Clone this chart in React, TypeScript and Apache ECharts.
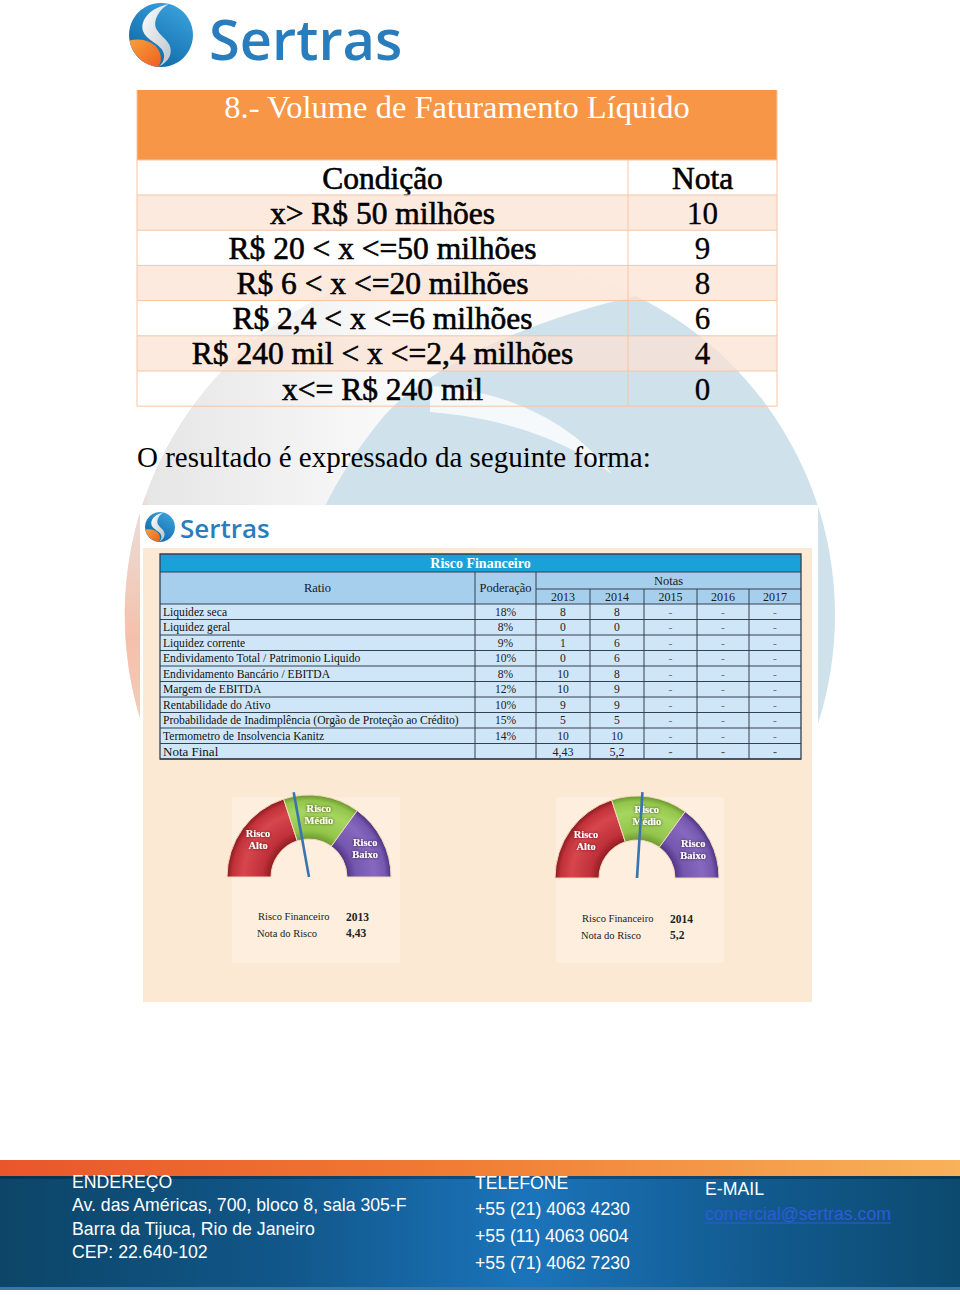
import React, { useEffect, useRef } from 'react';
import * as echarts from 'echarts';

// ---------- data ----------
const pageTitle = '8.- Volume de Faturamento Líquido';
const condHeader = ['Condição', 'Nota'];
const conditions = [
  'x> R$ 50 milhões',
  'R$ 20 < x <=50 milhões',
  'R$ 6 < x <=20 milhões',
  'R$ 2,4 < x <=6 milhões',
  'R$ 240 mil < x <=2,4 milhões',
  'x<= R$ 240 mil',
];
const condNotas = ['10', '9', '8', '6', '4', '0'];
const introText = 'O resultado é expressado da seguinte forma:';

const riskTitle = 'Risco Financeiro';
const riskHeader = ['Ratio', 'Poderação', 'Notas'];
const years = ['2013', '2014', '2015', '2016', '2017'];
const ratios = [
  'Liquidez seca',
  'Liquidez geral',
  'Liquidez corrente',
  'Endividamento Total / Patrimonio Liquido',
  'Endividamento Bancário / EBITDA',
  'Margem de EBITDA',
  'Rentabilidade do Ativo',
  'Probabilidade de Inadimplência (Orgão de Proteção ao Crédito)',
  'Termometro de Insolvencia Kanitz',
];
const ponderacao = ['18%', '8%', '9%', '10%', '8%', '12%', '10%', '15%', '14%'];
const notas2013 = ['8', '0', '1', '0', '10', '10', '9', '5', '10'];
const notas2014 = ['8', '0', '6', '6', '8', '9', '9', '5', '10'];
const notasLater = ['-', '-', '-'];
const notaFinalLabel = 'Nota Final';
const notaFinal = ['4,43', '5,2', '-', '-', '-'];

const riskBands = ['Risco\nAlto', 'Risco\nMédio', 'Risco\nBaixo'];
const riskBandWidths = [4, 3, 3];
const gaugeValues = [4.43, 5.2];
const gaugeYears = ['2013', '2014'];
const gaugeNotes = ['4,43', '5,2'];
const gaugeLabels = ['Risco Financeiro', 'Nota do Risco'];

const footerAddress = ['ENDEREÇO', 'Av. das Américas, 700, bloco 8, sala 305-F', 'Barra da Tijuca, Rio de Janeiro', 'CEP: 22.640-102'];
const footerPhone = ['TELEFONE', '+55 (21) 4063 4230', '+55 (11) 4063 0604', '+55 (71) 4062 7230'];
const footerMail = ['E-MAIL', 'comercial@sertras.com'];
const brand = 'Sertras';

// ---------- shapes ----------
const SERIF = '"Liberation Serif", "Times New Roman", serif';
const SANS = '"Liberation Sans", Arial, sans-serif';
const LOGO_FONT = '"Open Sans", "Noto Sans", sans-serif';

const reg = (name: string, d: string) =>
  echarts.graphic.registerShape(name, (echarts.graphic as any).extendPath(d, {}));
reg('logoOrange', 'M 0.8 58.7 C 15 55 30 58 40 66 C 50 75 53 88 46 99.8 A 50 50 0 0 1 0.8 58.7 Z');
reg('logoSwoosh', 'M 62 2 C 36 6 16 26 22 44 C 27 57 44 62 51 72 C 58 82 55 93 46 99.8 C 63 92 69 78 63 65 C 56 52 39 45 41 30 C 43 18 51 8 62 2 Z');
reg('wmSwoosh', 'M 636 296 C 530 320 430 365 384 416 C 340 468 302 540 284 620 C 268 700 242 790 208 843 A 355 355 0 0 1 636 296 Z');
reg('wmSalmon', 'M 146 494 A 355 355 0 0 0 276 906 C 215 800 175 640 146 494 Z');
reg('wmTail', 'M 430 386 C 510 390 575 425 612 474 C 565 440 505 418 430 412 Z');

function txt(text: string, x: number, y: number, size: number, o: any = {}) {
  return {
    type: 'text', x, y, silent: true, z: o.z ?? 1,
    style: {
      text, fontSize: size, fontFamily: o.family || SERIF, fontWeight: o.weight || 'normal',
      fill: o.color || '#000', textAlign: o.align || 'center', textVerticalAlign: 'middle',
      ...(o.strokeW ? { stroke: o.color || '#000', lineWidth: o.strokeW } : {}),
    },
  };
}
function rect(x: number, y: number, w: number, h: number, fill: any, o: any = {}) {
  return { type: 'rect', silent: true, z: o.z ?? 1, shape: { x, y, width: w, height: h }, style: { fill, stroke: o.stroke, lineWidth: o.lw ?? 1, opacity: o.opacity ?? 1 } };
}
function line(x1: number, y1: number, x2: number, y2: number, stroke: string, lw = 1) {
  return { type: 'line', silent: true, z: 2, shape: { x1, y1, x2, y2 }, style: { stroke, lineWidth: lw } };
}
function logo(cx: number, cy: number, r: number) {
  const s = r / 50;
  const base = { x: cx - r, y: cy - r, scaleX: s, scaleY: s, silent: true, z: 3 };
  return [
    { type: 'circle', silent: true, z: 3, shape: { cx, cy, r },
      style: { fill: { type: 'linear', x: 0.8, y: 0, x2: 0.2, y2: 1, colorStops: [{ offset: 0, color: '#3aa3de' }, { offset: 1, color: '#0b63a3' }] } } },
    { ...base, type: 'logoOrange', style: { fill: { type: 'linear', x: 0, y: 0, x2: 1, y2: 1, colorStops: [{ offset: 0, color: '#f7a03a' }, { offset: 1, color: '#ef5f22' }] } } },
    { ...base, type: 'logoSwoosh', style: { fill: { type: 'linear', x: 0, y: 0, x2: 1, y2: 1, colorStops: [{ offset: 0, color: '#ffffff' }, { offset: 1, color: '#b9c3cc' }] } } },
  ];
}

function buildGraphic() {
  const els: any[] = [];
  // watermark
  els.push({ type: 'circle', silent: true, z: 0, shape: { cx: 480, cy: 615, r: 355 }, style: { fill: '#cfe2ec' } });
  els.push({ type: 'wmSwoosh', silent: true, z: 0, style: { fill: { type: 'linear', x: 150, y: 0, x2: 420, y2: 0, global: true, colorStops: [{ offset: 0, color: '#e6e6e6' }, { offset: 1, color: '#fcfcfc' }] } } });
  els.push({ type: 'wmSalmon', silent: true, z: 0, style: { fill: { type: 'linear', x: 0, y: 494, x2: 0, y2: 906, global: true, colorStops: [{ offset: 0, color: 'rgba(246,196,176,0.2)' }, { offset: 0.35, color: '#f5c0aa' }, { offset: 0.7, color: '#f8d2c2' }, { offset: 1, color: 'rgba(250,225,214,0.3)' }] } } });
  els.push({ type: 'wmTail', silent: true, z: 0, style: { fill: 'rgba(255,255,255,0.8)' } });

  // header logo
  els.push(...logo(161, 35, 32));
  els.push(txt(brand, 209, 38, 56, { family: LOGO_FONT, weight: 600, color: '#2a7dbc', align: 'left', z: 3 }));

  // table 1
  const L = 137, S = 628, R = 777, top = 90, head = 160, body = 195, rh = 35.2;
  const border = '#f6c4a3';
  els.push(rect(L, top, R - L, head - top, '#f79646'));
  els.push(txt(pageTitle, (L + R) / 2, 107, 32.5, { color: '#ffffff', z: 2 }));
  els.push(txt(condHeader[0], (L + S) / 2, 178, 31.5, { strokeW: 0.6 }));
  els.push(txt(condHeader[1], (S + R) / 2, 178, 31.5, { strokeW: 0.6 }));
  conditions.forEach((c, i) => {
    const y = body + i * rh;
    if (i % 2 === 0) els.push(rect(L, y, R - L, rh, 'rgba(252,226,210,0.72)'));
    els.push(txt(c, (L + S) / 2, y + rh / 2 + 0.5, 31.5, { strokeW: 0.6 }));
    els.push(txt(condNotas[i], (S + R) / 2, y + rh / 2 + 0.5, 31, { strokeW: 0.3 }));
  });
  const bottom = body + conditions.length * rh;
  for (let i = 0; i <= conditions.length; i++) els.push(line(L, body + i * rh, R, body + i * rh, border));
  els.push(line(L, head, R, head, border));
  els.push(line(L, top, L, bottom, border));
  els.push(line(R, top, R, bottom, border));
  els.push(line(S, head, S, bottom, border));

  els.push(txt(introText, 137, 457, 29, { align: 'left' }));

  // embedded image background
  els.push(rect(140, 505, 678, 498, '#ffffff', { z: 1 }));
  els.push(rect(143, 548, 669, 454, '#fce9d3', { z: 1 }));
  els.push(...logo(160, 527, 15));
  els.push(txt(brand, 180, 528, 26, { family: LOGO_FONT, weight: 600, color: '#2a7dbc', align: 'left', z: 3 }));

  // risk table
  const cx = [160, 475, 536, 590, 644, 697, 749, 801];
  const tTop = 554, hTop = 572, yTop = 589, bTop = 604, brh = 15.5;
  const nRows = ratios.length + 1;
  const bBot = bTop + nRows * brh;
  const dark = '#34414e';
  els.push(rect(cx[0], tTop, cx[7] - cx[0], hTop - tTop, '#1ba1da'));
  els.push(rect(cx[0], hTop, cx[7] - cx[0], bTop - hTop, '#a6cfee'));
  els.push(rect(cx[0], bTop, cx[7] - cx[0], bBot - bTop, '#cfe6f8'));
  els.push(txt(riskTitle, (cx[0] + cx[7]) / 2, 563.5, 14, { color: '#ffffff', weight: 'bold' }));
  els.push(txt(riskHeader[0], (cx[0] + cx[1]) / 2, 588, 12.5, { color: '#1a1a1a' }));
  els.push(txt(riskHeader[1], (cx[1] + cx[2]) / 2, 588, 12.5, { color: '#1a1a1a' }));
  els.push(txt(riskHeader[2], (cx[2] + cx[7]) / 2, 580.5, 12.5, { color: '#1a1a1a' }));
  years.forEach((yr, k) => els.push(txt(yr, (cx[2 + k] + cx[3 + k]) / 2, 596.5, 12, { color: '#1a1a1a' })));
  ratios.forEach((r, i) => {
    const y = bTop + i * brh + brh / 2 + 0.5;
    els.push(txt(r, cx[0] + 3, y, 11.6, { align: 'left', color: '#111' }));
    els.push(txt(ponderacao[i], (cx[1] + cx[2]) / 2, y, 11.6, { color: '#222' }));
    els.push(txt(notas2013[i], (cx[2] + cx[3]) / 2, y, 11.6, { color: '#222' }));
    els.push(txt(notas2014[i], (cx[3] + cx[4]) / 2, y, 11.6, { color: '#222' }));
    notasLater.forEach((n, k) => els.push(txt(n, (cx[4 + k] + cx[5 + k]) / 2, y, 11.6, { color: '#777' })));
  });
  {
    const y = bTop + ratios.length * brh + brh / 2 + 0.5;
    els.push(txt(notaFinalLabel, cx[0] + 3, y, 13, { align: 'left', color: '#111' }));
    notaFinal.forEach((n, k) => els.push(txt(n, (cx[2 + k] + cx[3 + k]) / 2, y, 12, { color: k < 2 ? '#222' : '#555', weight: k < 2 ? 'normal' : 'bold' })));
  }
  for (let i = 0; i <= nRows; i++) els.push(line(cx[0], bTop + i * brh, cx[7], bTop + i * brh, dark, 1));
  els.push(line(cx[0], hTop, cx[7], hTop, dark, 1));
  els.push(line(cx[2], yTop, cx[7], yTop, dark, 1));
  els.push(line(cx[1], hTop, cx[1], bBot, dark, 1));
  els.push(line(cx[2], hTop, cx[2], bBot, dark, 1));
  for (let k = 3; k < 7; k++) els.push(line(cx[k], yTop, cx[k], bBot, dark, 1));
  els.push({ type: 'rect', silent: true, z: 2, shape: { x: cx[0], y: tTop, width: cx[7] - cx[0], height: bBot - tTop }, style: { fill: 'none', stroke: dark, lineWidth: 1.3 } });

  // gauge panels & captions
  const panelX = [232, 556];
  const capX = [258, 582];
  const capY = [916, 918];
  gaugeValues.forEach((_, i) => {
    els.push(rect(panelX[i], 797, 168, 166, '#fdeedd', { z: 1 }));
    els.push(txt(gaugeLabels[0], capX[i], capY[i], 10.5, { align: 'left', color: '#222' }));
    els.push(txt(gaugeYears[i], capX[i] + 88, capY[i] + 1, 11.5, { align: 'left', color: '#222', weight: 'bold' }));
    els.push(txt(gaugeLabels[1], capX[i] - 1, capY[i] + 17, 10.5, { align: 'left', color: '#222' }));
    els.push(txt(gaugeNotes[i], capX[i] + 88, capY[i] + 17, 11.5, { align: 'left', color: '#222', weight: 'bold' }));
  });

  // footer
  els.push(rect(0, 1160, 960, 16, { type: 'linear', x: 0, y: 0, x2: 1, y2: 0, colorStops: [{ offset: 0, color: '#e9562b' }, { offset: 0.45, color: '#f07a32' }, { offset: 1, color: '#f8b25a' }] }));
  els.push(rect(0, 1176, 960, 114, { type: 'linear', x: 0, y: 0, x2: 1, y2: 0, colorStops: [{ offset: 0, color: '#0c4567' }, { offset: 0.3, color: '#11578a' }, { offset: 0.55, color: '#1b74bb' }, { offset: 0.78, color: '#125b90' }, { offset: 1, color: '#0c4a6f' }] }));
  els.push(rect(0, 1176, 960, 3, 'rgba(0,20,40,0.35)'));
  els.push(rect(0, 1287, 960, 3, '#3279a8'));
  const fAddrY = [1182, 1205, 1229, 1252];
  const fPhoneY = [1183, 1209, 1236, 1263];
  const fs = 17.7;
  footerAddress.forEach((t, i) => els.push(txt(t, 72, fAddrY[i], fs, { family: SANS, align: 'left', color: '#ffffff', z: 3 })));
  footerPhone.forEach((t, i) => els.push(txt(t, 475, fPhoneY[i], fs, { family: SANS, align: 'left', color: '#ffffff', z: 3 })));
  els.push(txt(footerMail[0], 705, 1189, fs, { family: SANS, align: 'left', color: '#ffffff', z: 3 }));
  els.push(txt(footerMail[1], 705, 1214, fs, { family: SANS, align: 'left', color: '#2f5bd6', z: 3 }));
  els.push({ type: 'line', silent: true, z: 3, shape: { x1: 705, y1: 1223, x2: 891, y2: 1223 }, style: { stroke: '#2f5bd6', lineWidth: 1 } });
  return els;
}

const bandStops = [
  ['#8e1c22', '#c0303a', '#d6464c', '#c3323a', '#8a1a20'],
  ['#6d9a2e', '#93c54b', '#a6d660', '#93c54b', '#6a9630'],
  ['#4f3585', '#7457ae', '#8668bf', '#7457ae', '#4c3380'],
];

function buildSeries() {
  const centers = [[309, 877], [637, 878]];
  const total = riskBandWidths.reduce((a, b) => a + b, 0);
  const out: any[] = [];
  gaugeValues.forEach((v, i) => {
    const [gx, gy] = centers[i];
    out.push({
      type: 'pie', z: 10, silent: true, center: [gx, gy], radius: [38, 82], startAngle: 180, clockwise: true,
      avoidLabelOverlap: false,
      label: { show: true, position: 'inside', formatter: '{b}', color: '#ffffff', fontFamily: SERIF, fontWeight: 'bold', fontSize: 10.5, lineHeight: 12, textShadowColor: 'rgba(40,0,0,0.75)', textShadowBlur: 3 },
      labelLine: { show: false },
      itemStyle: { borderColor: '#f3d8bd', borderWidth: 1 },
      data: [
        ...riskBands.map((name, k) => ({
          name, value: riskBandWidths[k],
          itemStyle: {
            color: { type: 'radial', x: gx, y: gy, r: 82, global: true, colorStops: [
              { offset: 0.46, color: bandStops[k][0] }, { offset: 0.57, color: bandStops[k][1] },
              { offset: 0.8, color: bandStops[k][2] }, { offset: 0.93, color: bandStops[k][3] }, { offset: 1, color: bandStops[k][4] },
            ] },
          },
        })),
        { name: '', value: total, itemStyle: { color: 'rgba(0,0,0,0)', borderWidth: 0 }, label: { show: false } },
      ],
    });
    out.push({
      type: 'gauge', z: 12, silent: true, center: [gx, gy], radius: 82, startAngle: 180, endAngle: 0, min: 0, max: total,
      axisLine: { show: false }, axisTick: { show: false }, splitLine: { show: false }, axisLabel: { show: false },
      pointer: { show: true, icon: 'rect', width: 2.6, length: '105%', itemStyle: { color: '#3a74ae' } },
      anchor: { show: false }, title: { show: false }, detail: { show: false },
      data: [{ value: v }],
    });
  });
  return out;
}

export default function App() {
  const ref = useRef<HTMLDivElement>(null);
  useEffect(() => {
    document.body.style.margin = '0';
    const chart = echarts.init(ref.current!, undefined, { renderer: 'svg', width: 960, height: 1295 });
    chart.setOption({
      animation: false,
      backgroundColor: '#ffffff',
      graphic: { elements: buildGraphic() },
      series: buildSeries(),
    });
    return () => chart.dispose();
  }, []);
  return <div ref={ref} style={{ position: 'absolute', left: 0, top: 0, width: 960, height: 1295 }} />;
}
